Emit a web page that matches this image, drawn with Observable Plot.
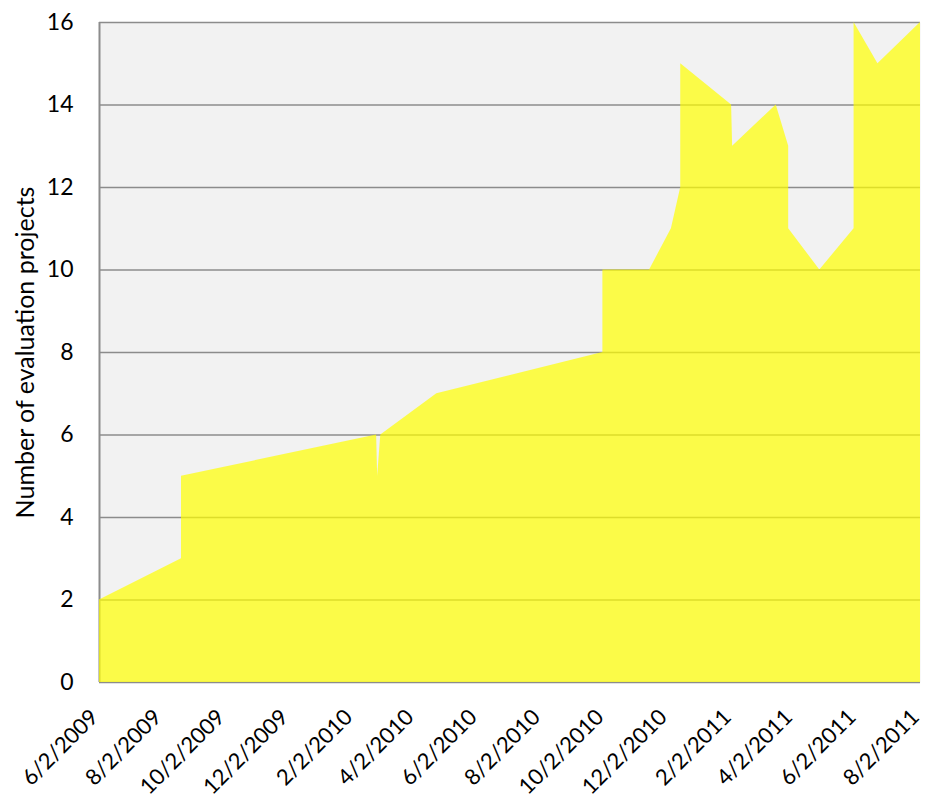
<!DOCTYPE html>
<html>
<head>
<meta charset="utf-8">
<script src="https://cdn.jsdelivr.net/npm/d3@7"></script>
<script src="https://cdn.jsdelivr.net/npm/@observablehq/plot@0.6"></script>
<style>
  html, body { margin: 0; padding: 0; background: #ffffff; }
</style>
</head>
<body>
<div id="chart"></div>
<script>
// Data (vertical steps use repeated dates)
const dates = ["2009-06-02","2009-08-20","2009-08-20","2010-02-24","2010-02-25","2010-02-28",
  "2010-04-23","2010-09-30","2010-09-30","2010-11-14","2010-12-05","2010-12-14","2010-12-14",
  "2011-02-01","2011-02-02","2011-03-16","2011-03-28","2011-03-28","2011-04-27","2011-05-30",
  "2011-05-30","2011-06-22","2011-08-02"];
const values = [2,3,5,6,5,6,7,8,10,10,11,12,15,14,13,14,13,11,10,11,16,15,16];

const xTickLabels = ["6/2/2009","8/2/2009","10/2/2009","12/2/2009","2/2/2010","4/2/2010",
  "6/2/2010","8/2/2010","10/2/2010","12/2/2010","2/2/2011","4/2/2011","6/2/2011","8/2/2011"];
const yTicks = [0,2,4,6,8,10,12,14,16];
const yLabel = "Number of evaluation projects";

const parseMDY = s => { const [m,d,y] = s.split("/").map(Number); return new Date(Date.UTC(y, m-1, d)); };
const xTicks = xTickLabels.map(parseMDY);
const fmt = d => `${d.getUTCMonth()+1}/${d.getUTCDate()}/${d.getUTCFullYear()}`;
const table = dates.map((d,i) => ({date: new Date(d + "T00:00:00Z"), value: values[i]}));

const chart = Plot.plot({
  width: 925,
  height: 801,
  marginLeft: 99,
  marginRight: 5,
  marginTop: 22,
  marginBottom: 119,
  style: {fontFamily: "Lato, 'Open Sans', sans-serif", fontSize: "23px", background: "#ffffff", color: "#000000"},
  x: {type: "utc", domain: [xTicks[0], xTicks[xTicks.length-1]]},
  y: {domain: [0, 16]},
  marks: [
    Plot.frame({fill: "#f2f2f2", stroke: null}),
    Plot.gridY(yTicks, {stroke: "#8c8c8c", strokeOpacity: 1, strokeWidth: 1.6}),
    Plot.ruleX([xTicks[0]], {stroke: "#8c8c8c", strokeWidth: 2}),
    Plot.area(table, {x1: "date", y1: 0, y2: "value", fill: "#ffff00", fillOpacity: 0.7, curve: "linear"}),
    Plot.axisY(yTicks, {tickSize: 0, tickPadding: 26, label: null, fontSize: 23}),
    Plot.axisX(xTicks, {tickSize: 0, tickPadding: 31, tickRotate: -45, tickFormat: fmt, label: null, fontSize: 22, dx: -5}),
    Plot.text([yLabel], {frameAnchor: "left", textAnchor: "middle", dx: -74, rotate: -90, fontSize: 25, fill: "#000000"})
  ]
});
document.getElementById("chart").appendChild(chart);
</script>
</body>
</html>
